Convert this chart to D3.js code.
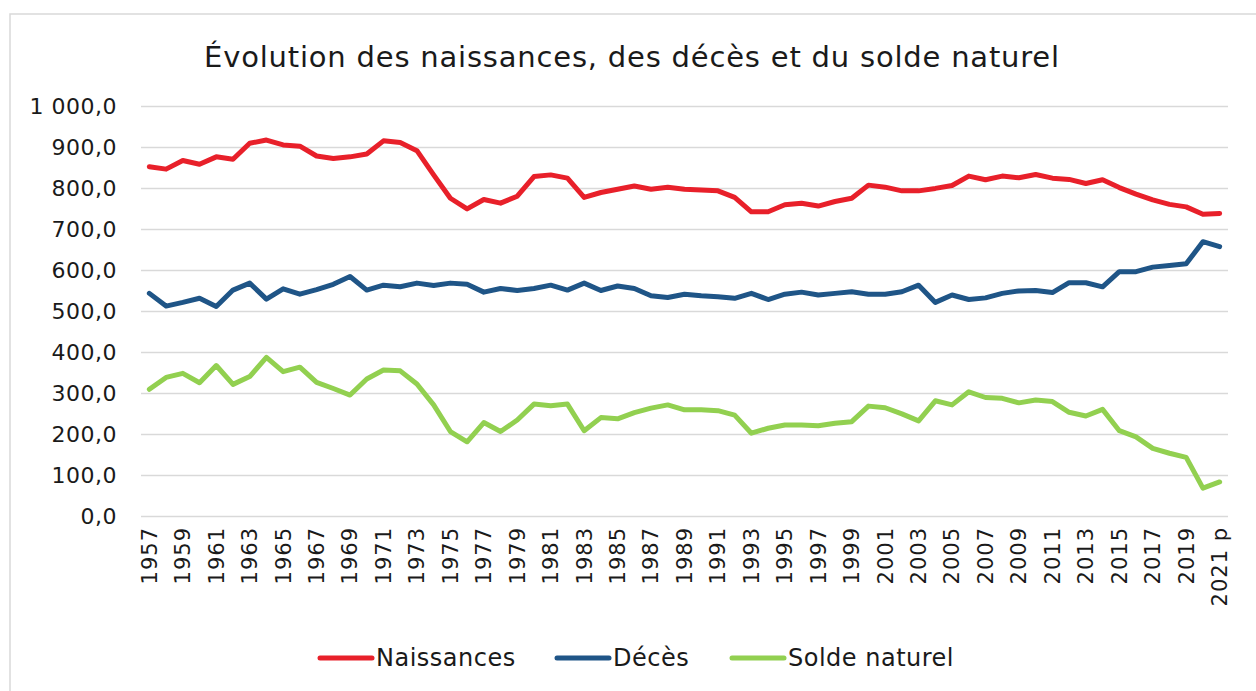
<!DOCTYPE html>
<html>
<head>
<meta charset="utf-8">
<script src="https://cdn.jsdelivr.net/npm/d3@7"></script>
<style>
  body { margin: 0; background: #fff; }
  text { font-family: "DejaVu Sans", sans-serif; fill: #1a1a1a; }
</style>
</head>
<body>
<script>
// années (la dernière est provisoire)
var years = [];
for (var y = 1957; y <= 2020; y++) years.push(String(y));
years.push("2021 p");

var naissances = [852, 846, 867, 858, 876, 870, 909, 917, 905, 902, 878, 872, 876, 883, 915, 911,
  891, 832, 775, 749, 772, 763, 780, 828, 832, 824, 777, 789, 797, 805, 797, 802,
  797, 795, 793, 777, 742, 742, 759, 763, 756, 767, 775, 807, 802, 793, 793, 799,
  806, 829, 820, 829, 825, 833, 824, 821, 811, 820, 801, 785, 771, 760, 754, 736, 738];

var deces = [543, 512, 521, 531, 511, 551, 568, 529, 554, 541, 552, 565, 584, 551, 563, 559,
  568, 562, 568, 565, 546, 555, 550, 555, 563, 551, 568, 550, 561, 555, 537, 533,
  541, 537, 535, 531, 543, 528, 541, 546, 539, 543, 547, 541, 541, 547, 563, 521,
  539, 528, 532, 543, 549, 550, 545, 569, 569, 559, 596, 596, 607, 611, 615, 669, 657];

var solde = [309, 338, 348, 325, 367, 321, 340, 387, 352, 363, 326, 311, 295, 334, 356, 354,
  322, 271, 206, 181, 228, 206, 234, 273, 269, 273, 208, 240, 237, 252, 263, 271,
  259, 259, 257, 246, 202, 214, 222, 222, 220, 226, 230, 268, 264, 249, 232, 281,
  271, 303, 289, 287, 276, 283, 279, 253, 244, 260, 208, 193, 165, 153, 143, 68, 83];

var yTicks = [0, 100, 200, 300, 400, 500, 600, 700, 800, 900, 1000];

var series = [
  {name: "Naissances", values: naissances, color: "#e8202a"},
  {name: "Décès", values: deces, color: "#1f5587"},
  {name: "Solde naturel", values: solde, color: "#92d050"}
];

var W = 1256, H = 691;
var margin = {top: 106, right: 28, bottom: 175, left: 141};

var svg = d3.select("body").append("svg")
  .attr("width", W)
  .attr("height", H);

// cadre du graphique
svg.append("rect")
  .attr("x", 10).attr("y", 14)
  .attr("width", W + 20).attr("height", H + 20)
  .attr("fill", "none")
  .attr("stroke", "#d9d9d9")
  .attr("stroke-width", 1.5);

var x = d3.scaleBand()
  .domain(years)
  .range([margin.left, W - margin.right]);

var yScale = d3.scaleLinear()
  .domain([0, 1000])
  .range([H - margin.bottom, margin.top]);

svg.append("text")
  .attr("x", 632).attr("y", 67)
  .attr("text-anchor", "middle")
  .style("font-size", "29px")
  .style("letter-spacing", "0.8px")
  .text("Évolution des naissances, des décès et du solde naturel");

// grille + axe Y
var fmt = function(v) {
  var s = d3.format(",.1f")(v);
  return s.replace(/,/g, " ").replace(".", ",");
};

var yAxis = svg.append("g")
  .attr("transform", `translate(${margin.left},0)`)
  .call(d3.axisLeft(yScale).tickValues(yTicks)
    .tickSize(-(W - margin.right - margin.left))
    .tickPadding(24)
    .tickFormat(fmt));
yAxis.select(".domain").remove();
yAxis.selectAll(".tick line").attr("stroke", "#d9d9d9").attr("stroke-width", 1.5);
yAxis.selectAll(".tick text")
  .style("font-size", "22px")
  .style("letter-spacing", "0.5px")
  .style("font-family", "DejaVu Sans, sans-serif")
  .attr("fill", "#1a1a1a");

// axe X, une étiquette sur deux
var xAxis = svg.append("g")
  .attr("transform", `translate(0,${H - margin.bottom})`)
  .call(d3.axisBottom(x)
    .tickValues(years.filter((d, i) => i % 2 == 0))
    .tickSize(0));
xAxis.select(".domain").remove();
xAxis.selectAll(".tick text")
  .style("font-size", "21px")
  .style("letter-spacing", "1px")
  .style("font-family", "DejaVu Sans, sans-serif")
  .attr("fill", "#1a1a1a")
  .attr("text-anchor", "end")
  .attr("dy", "0.35em")
  .attr("transform", "translate(0,11) rotate(-90)")
  .attr("x", 0).attr("y", 0);

var line = d3.line()
  .x((d, i) => x(years[i]) + x.bandwidth() / 2)
  .y(d => yScale(d));

svg.selectAll(".serie")
  .data(series)
  .enter()
  .append("path")
  .attr("class", "serie")
  .attr("d", d => line(d.values))
  .attr("fill", "none")
  .attr("stroke", d => d.color)
  .attr("stroke-width", 5)
  .attr("stroke-linejoin", "round")
  .attr("stroke-linecap", "round");

// légende
var legX = [318, 555, 730];
var leg = svg.selectAll(".leg")
  .data(series)
  .enter()
  .append("g")
  .attr("transform", (d, i) => `translate(${legX[i]},658)`);
leg.append("line")
  .attr("x1", 2).attr("x2", 54)
  .attr("stroke", d => d.color)
  .attr("stroke-width", 5)
  .attr("stroke-linecap", "round");
leg.append("text")
  .attr("x", 58).attr("dy", "0.35em")
  .style("font-size", "24px")
  .style("letter-spacing", "0.5px")
  .text(d => d.name);
</script>
</body>
</html>
